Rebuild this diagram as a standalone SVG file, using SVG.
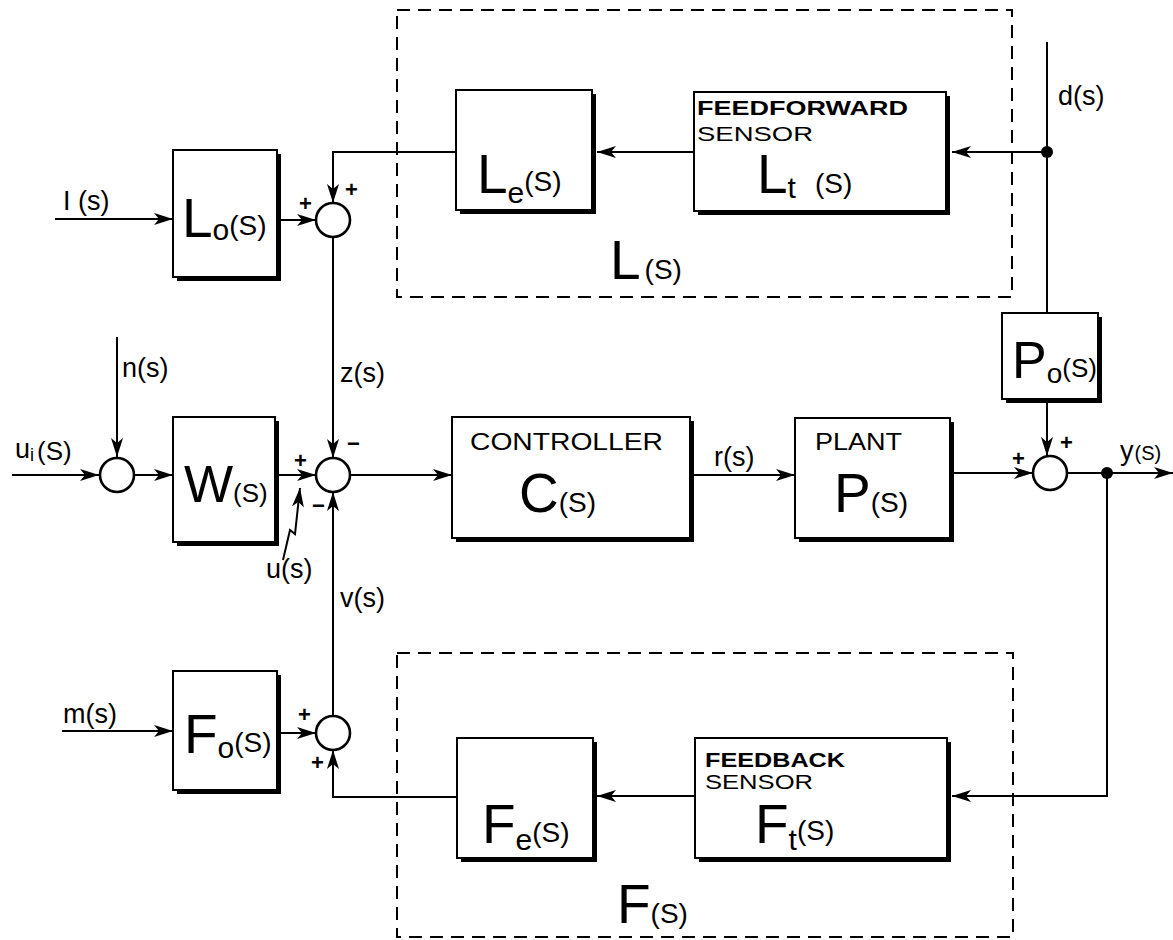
<svg xmlns="http://www.w3.org/2000/svg" width="1173" height="940" viewBox="0 0 1173 940">
<style>
.blk{fill:#fff;stroke:#000;stroke-width:2}
.shd{fill:none;stroke:#000;stroke-width:4}
.dash{fill:none;stroke:#000;stroke-width:2;stroke-dasharray:13 8}
.sum{fill:#fff;stroke:#000;stroke-width:2.6}
.ln{fill:none;stroke:#000;stroke-width:2}
.arr{fill:none;stroke:#000;stroke-width:2;marker-end:url(#ah)}
text{font-family:"Liberation Sans",Arial,sans-serif;fill:#000}
.big{font-size:55px}
.sub{font-size:30px}
.par{font-size:28px}
.lbl{font-size:27px}
.sgn{font-size:22px;font-weight:bold}
</style>
<defs>
<marker id="ah" markerUnits="userSpaceOnUse" markerWidth="20" markerHeight="12" refX="19" refY="6" orient="auto">
<path d="M0,0 L19,6 L0,12 L5,6 z" fill="#000"/>
</marker>
</defs>
<rect width="1173" height="940" fill="#fff"/>

<g id="groupL">
<rect class="dash" x="397" y="10" width="615" height="287"/>
<text x="610" y="279"><tspan class="big">L</tspan><tspan class="par" dx="4">(S)</tspan></text>
</g>
<g id="groupF">
<rect class="dash" x="397" y="653" width="616" height="284"/>
<text x="617" y="923"><tspan class="big">F</tspan><tspan class="par">(S)</tspan></text>
</g>

<g id="connectors">
<path class="arr" d="M55,219 H173"/>
<path class="arr" d="M277,220 H316"/>
<path class="arr" d="M456,152 H333 V203"/>
<path class="arr" d="M694,152 H597"/>
<path class="ln" d="M1047,42 V312"/>
<path class="arr" d="M1047,152 H952"/>
<circle cx="1047" cy="152" r="6" fill="#000"/>
<path class="arr" d="M333,237 V458"/>
<path class="arr" d="M12,475 H99"/>
<path class="arr" d="M117,337 V457"/>
<path class="arr" d="M135,475 H173"/>
<path class="arr" d="M275,475 H316"/>
<path class="arr" d="M350,475 H452"/>
<path class="arr" d="M690,475 H795"/>
<path class="arr" d="M950,473 H1033"/>
<path class="arr" d="M1047,399 V456"/>
<path class="arr" d="M1067,473 H1173"/>
<circle cx="1107" cy="473" r="6" fill="#000"/>
<path class="arr" d="M1107,473 V796 H952"/>
<path class="arr" d="M695,796 H597"/>
<path class="arr" d="M456,797 H333 V750"/>
<path class="arr" d="M62,731 H173"/>
<path class="arr" d="M277,733 H316"/>
<path class="arr" d="M333,716 V492"/>
<path class="arr" d="M283,560 L290,530 L295,534 L300,488"/>
</g>

<g id="Lo">
<rect class="blk" x="173" y="150" width="104" height="127"/>
<path class="shd" d="M279,154 V279 H177"/>
<text x="182" y="237"><tspan class="big">L</tspan><tspan class="sub" dy="3">o</tspan><tspan class="par" dy="-5">(S)</tspan></text>
</g>
<g id="Le">
<rect class="blk" x="456" y="90" width="136" height="120"/>
<path class="shd" d="M594,94 V212 H460"/>
<text x="477" y="193"><tspan class="big">L</tspan><tspan class="sub" dy="10">e</tspan><tspan class="par" dy="-12">(S)</tspan></text>
</g>
<g id="Lt">
<rect class="blk" x="694" y="92" width="252" height="119"/>
<path class="shd" d="M948,96 V213 H698"/>
<text x="697" y="115" font-weight="bold" font-size="21" textLength="211" lengthAdjust="spacingAndGlyphs">FEEDFORWARD</text>
<text x="697" y="141" font-size="21" textLength="116" lengthAdjust="spacingAndGlyphs">SENSOR</text>
<text x="757" y="193"><tspan class="big">L</tspan><tspan class="sub" dy="5">t</tspan><tspan class="par" dx="19" dy="-5">(S)</tspan></text>
</g>
<g id="J1"><circle class="sum" cx="333" cy="220" r="17"/>
<text class="sgn" x="299" y="211">+</text><text class="sgn" x="345" y="197">+</text></g>

<g id="W">
<rect class="blk" x="173" y="417" width="102" height="125"/>
<path class="shd" d="M277,421 V544 H177"/>
<text x="184" y="502"><tspan font-size="52">W</tspan><tspan font-size="26">(S)</tspan></text>
</g>
<g id="Jn"><circle class="sum" cx="117" cy="475" r="17"/></g>
<g id="J2"><circle class="sum" cx="333" cy="475" r="17"/>
<text class="sgn" x="294" y="468">+</text><text class="sgn" x="347" y="451">−</text><text class="sgn" x="312" y="513">−</text></g>

<g id="C">
<rect class="blk" x="452" y="417" width="238" height="121"/>
<path class="shd" d="M692,421 V540 H456"/>
<text x="470" y="450" font-size="23" textLength="193" lengthAdjust="spacingAndGlyphs">CONTROLLER</text>
<text x="519" y="512"><tspan class="big">C</tspan><tspan class="par">(S)</tspan></text>
</g>
<g id="P">
<rect class="blk" x="795" y="418" width="155" height="120"/>
<path class="shd" d="M952,422 V540 H799"/>
<text x="815" y="450" font-size="23" textLength="87" lengthAdjust="spacingAndGlyphs">PLANT</text>
<text x="834" y="512"><tspan class="big">P</tspan><tspan class="par">(S)</tspan></text>
</g>
<g id="Po">
<rect class="blk" x="1002" y="313" width="96" height="86"/>
<path class="shd" d="M1100,317 V401 H1006"/>
<text x="1012" y="378"><tspan font-size="52">P</tspan><tspan font-size="28" dy="5">o</tspan><tspan font-size="26" dy="-6">(S)</tspan></text>
</g>
<g id="J3"><circle class="sum" cx="1050" cy="473" r="17"/>
<text class="sgn" x="1012" y="466">+</text><text class="sgn" x="1060" y="450">+</text></g>

<g id="Fo">
<rect class="blk" x="173" y="671" width="104" height="119"/>
<path class="shd" d="M279,675 V792 H177"/>
<text x="184" y="753"><tspan class="big">F</tspan><tspan class="sub" dy="5">o</tspan><tspan class="par" dy="-6">(S)</tspan></text>
</g>
<g id="J4"><circle class="sum" cx="333" cy="733" r="17"/>
<text class="sgn" x="298" y="722">+</text><text class="sgn" x="311" y="770">+</text></g>
<g id="Fe">
<rect class="blk" x="457" y="738" width="136" height="120"/>
<path class="shd" d="M595,742 V860 H461"/>
<text x="482" y="843"><tspan class="big">F</tspan><tspan class="sub" dy="7">e</tspan><tspan class="par" dy="-8">(S)</tspan></text>
</g>
<g id="Ft">
<rect class="blk" x="695" y="738" width="252" height="120"/>
<path class="shd" d="M949,742 V860 H699"/>
<text x="705" y="767" font-weight="bold" font-size="21" textLength="140" lengthAdjust="spacingAndGlyphs">FEEDBACK</text>
<text x="705" y="789" font-size="21" textLength="108" lengthAdjust="spacingAndGlyphs">SENSOR</text>
<text x="755" y="843"><tspan class="big">F</tspan><tspan class="sub" dy="7">t</tspan><tspan class="par" dy="-10">(S)</tspan></text>
</g>

<g id="labels">
<text class="lbl" x="63" y="210">I (s)</text>
<text class="lbl" x="122" y="377">n(s)</text>
<text class="lbl" x="340" y="382">z(s)</text>
<text x="15" y="458"><tspan font-size="27">u</tspan><tspan font-size="18" dy="3">i</tspan><tspan font-size="26" dx="3" dy="-1">(S)</tspan></text>
<text class="lbl" x="266" y="578">u(s)</text>
<text class="lbl" x="340" y="607">v(s)</text>
<text class="lbl" x="714" y="466">r(s)</text>
<text class="lbl" x="1058" y="105">d(s)</text>
<text x="1120" y="460"><tspan font-size="27">y</tspan><tspan font-size="20" dx="1">(S)</tspan></text>
<text class="lbl" x="63" y="723">m(s)</text>
</g>
</svg>
